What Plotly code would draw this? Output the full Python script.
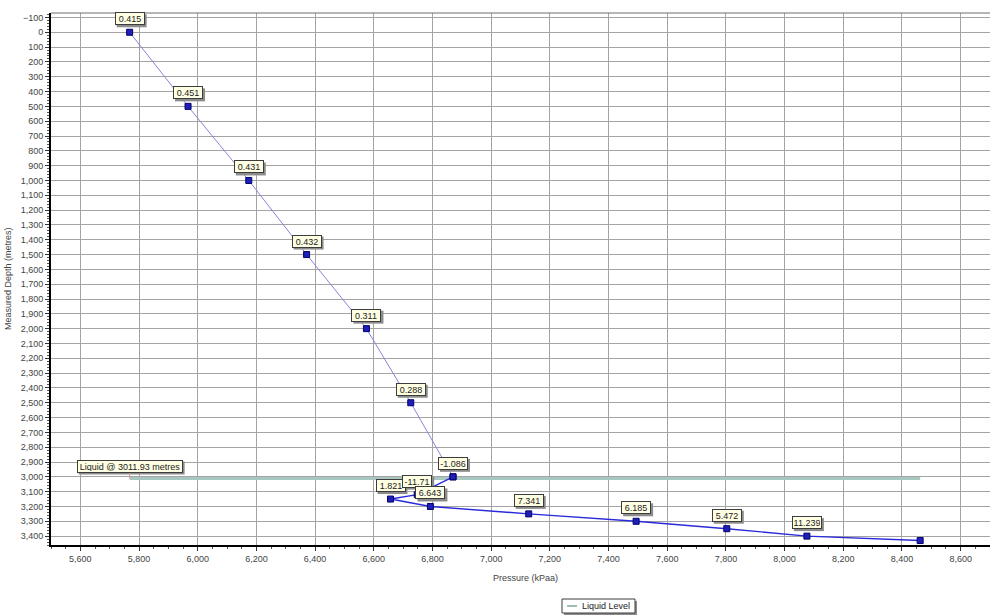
import plotly.graph_objects as go

# Survey points: measured depth (m) and pressure (kPaa)
depths = [0, 500, 1000, 1500, 2000, 2500, 3000, 3120, 3150, 3200, 3250, 3300, 3350, 3400, 3430]
pressures = [5768, 5967, 6174, 6371, 6575, 6726, 6870, 6748, 6657, 6793, 7128, 7494, 7803, 8076, 8462]
gradient_labels = ["0.415", "0.451", "0.431", "0.432", "0.311", "0.288", "-1.086",
                   "-11.71", "1.821", "6.643", "7.341", "6.185", "5.472", "11.239", None]

liquid_depth = 3011.93
liquid_text = "Liquid @ 3011.93 metres"
legend_name = "Liquid Level"

x_title = "Pressure (kPaa)"
y_title = "Measured Depth (metres)"

FONT = "Liberation Sans, Arial, sans-serif"
W, H = 990, 616
ML, MR, MT, MB = 51, 0, 13, 71
PW, PH = W - ML - MR, H - MT - MB


def px_x(px):
    return (px - ML) / PW


def px_y(py):
    return (H - MB - py) / PH


split = depths.index(3000)

fig = go.Figure()

# Liquid level line across the pressure span
fig.add_trace(go.Scatter(
    x=[min(pressures), max(pressures)], y=[liquid_depth, liquid_depth],
    mode="lines", line=dict(color="#a9c7c1", width=3),
    name=legend_name, showlegend=False, hoverinfo="skip"))

marker = dict(symbol="square", size=6, color="#1f1fb8", line=dict(color="#00006e", width=1))

# Gas column (above the liquid level)
fig.add_trace(go.Scatter(
    x=pressures[:split + 1], y=depths[:split + 1], mode="lines+markers",
    line=dict(color="#8585dc", width=1), marker=marker, showlegend=False))

# Liquid column (below the liquid level)
fig.add_trace(go.Scatter(
    x=pressures[split:], y=depths[split:], mode="lines+markers",
    line=dict(color="#2a2ad8", width=1.4), marker=marker, showlegend=False))

annotations = []
shapes = []

BOX_H = 9          # inner text height of a label box
GAP = 7            # pixels between a point and the bottom of its label


def add_box(x, y, text, width, yshift):
    half = width / 2 + 2
    # drop shadow behind the label box
    shapes.append(dict(type="rect", xref="x", yref="y",
                       xsizemode="pixel", xanchor=x, x0=-half + 2, x1=half + 2,
                       ysizemode="pixel", yanchor=y, y0=yshift - 2, y1=yshift + BOX_H + 2,
                       line=dict(width=0), fillcolor="#8c8c8c", layer="above"))
    annotations.append(dict(x=x, y=y, xref="x", yref="y", text=text, showarrow=False,
                            xanchor="center", yanchor="bottom", yshift=yshift,
                            borderwidth=1, borderpad=1, width=width, height=BOX_H,
                            align="center", bgcolor="#ffffe4", bordercolor="#3c3c3c",
                            font=dict(family=FONT, size=9, color="#222222")))


# Gradient labels, stacked left to right by pressure
labelled = [i for i, t in enumerate(gradient_labels) if t]
for i in sorted(labelled, key=lambda k: pressures[k]):
    add_box(pressures[i], depths[i], gradient_labels[i], 26, GAP)

# Liquid level label at the start of the line
add_box(min(pressures), liquid_depth, liquid_text, 102, 6)

# Axis titles
annotations.append(dict(x=px_x(525), y=px_y(578), xref="paper", yref="paper", text=x_title,
                        showarrow=False, xanchor="center", yanchor="middle",
                        font=dict(family=FONT, size=9, color="#444444")))
annotations.append(dict(x=px_x(8), y=0.5, xref="paper", yref="paper", text=y_title,
                        showarrow=False, textangle=-90, xanchor="center", yanchor="middle",
                        font=dict(family=FONT, size=9, color="#444444")))

# Legend box
lx0, lx1, ly0, ly1 = 562, 635, 599, 613
annotations.append(dict(x=px_x(580), y=px_y((ly0 + ly1) / 2), xref="paper", yref="paper",
                        text=legend_name, showarrow=False, xanchor="left", yanchor="middle",
                        font=dict(family=FONT, size=9, color="#222222")))

shapes += [
    # top border of the plot area
    dict(type="line", xref="paper", yref="paper", x0=0, x1=1, y0=1, y1=1,
         line=dict(color="#6e6e6e", width=1)),
    # leader from the liquid label to the line
    dict(type="line", xref="x", yref="y", ysizemode="pixel", yanchor=liquid_depth,
         x0=min(pressures), x1=min(pressures), y0=0, y1=6,
         line=dict(color="#d89a9a", width=1)),
    # legend shadow, frame and sample line
    dict(type="rect", xref="paper", yref="paper", x0=px_x(lx0 + 2), x1=px_x(lx1 + 2),
         y0=px_y(ly1 + 2), y1=px_y(ly0 + 2), line=dict(width=0), fillcolor="#8c8c8c"),
    dict(type="rect", xref="paper", yref="paper", x0=px_x(lx0), x1=px_x(lx1),
         y0=px_y(ly1), y1=px_y(ly0), line=dict(color="#3c3c3c", width=1), fillcolor="white"),
    dict(type="line", xref="paper", yref="paper", x0=px_x(567), x1=px_x(577),
         y0=px_y((ly0 + ly1) / 2), y1=px_y((ly0 + ly1) / 2),
         line=dict(color="#7fa9a2", width=1.5)),
]

fig.update_layout(
    width=W, height=H,
    margin=dict(l=ML, r=MR, t=MT, b=MB),
    paper_bgcolor="white", plot_bgcolor="white",
    font=dict(family=FONT, size=9, color="#444444"),
    showlegend=False,
    annotations=annotations,
    shapes=shapes,
    xaxis=dict(
        range=[5500, 8700], tick0=5600, dtick=200, tickformat=",d",
        showgrid=True, gridcolor="#a4a4a4", gridwidth=1, zeroline=False,
        showline=True, linecolor="black", linewidth=2,
        ticks="outside", ticklen=4, tickcolor="#333333",
        minor=dict(dtick=50, ticks="outside", ticklen=2, tickcolor="#555555", showgrid=False),
        tickfont=dict(family=FONT, size=9, color="#444444"),
    ),
    yaxis=dict(
        range=[3460, -130], tick0=0, dtick=100, tickformat=",d",
        showgrid=True, gridcolor="#a4a4a4", gridwidth=1, zeroline=False,
        showline=True, linecolor="black", linewidth=2,
        ticks="outside", ticklen=4, tickcolor="#333333",
        minor=dict(dtick=20, ticks="outside", ticklen=2, tickcolor="#555555", showgrid=False),
        tickfont=dict(family=FONT, size=9, color="#444444"),
    ),
)

fig.write_html("out.html")
